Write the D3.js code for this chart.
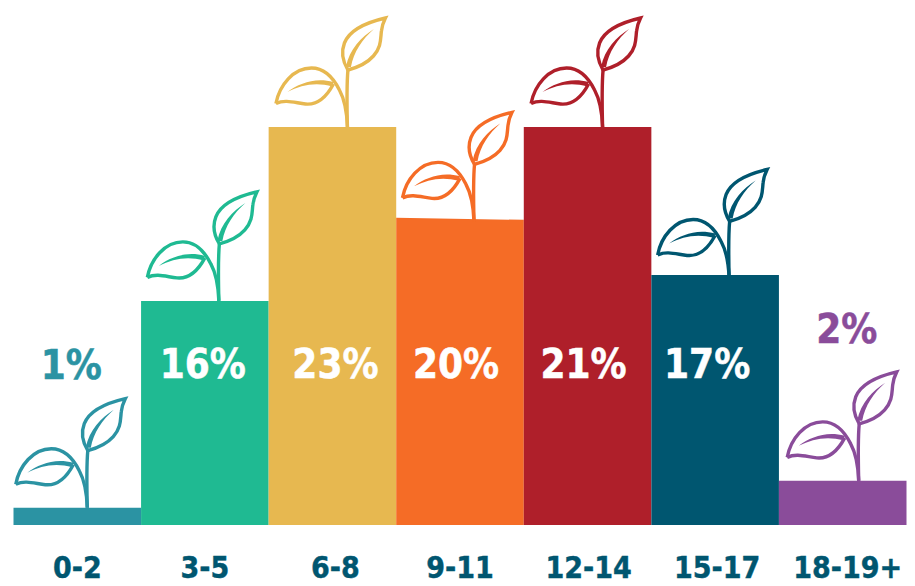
<!DOCTYPE html>
<html>
<head>
<meta charset="utf-8">
<script src="https://cdn.jsdelivr.net/npm/d3@7"></script>
<style>
	html, body { margin: 0; padding: 0; background: #fff; }
	text { font-family: "DejaVu Sans Condensed", "DejaVu Sans", sans-serif; font-stretch: condensed; font-weight: 700; }
</style>
</head>
<body>
<svg id="chart" width="915" height="586"></svg>
<script>
var ages = ["0-2", "3-5", "6-8", "9-11", "12-14", "15-17", "18-19+"];
var shares = [1, 16, 23, 20, 21, 17, 2];
// the drawn heights don't follow the printed shares, so they are read off separately
var barHeights = [1.0, 12.95, 23, 17.75, 23, 14.45, 2.55];
var colors = ["#2b93a3", "#1fba92", "#e7b850", "#f56c26", "#af1f2a", "#005670", "#8a4c9a"];

// hand placement in the original artwork, px
var barTilt = [0, 0, 0, 2, 0, 0, 0];
var sproutShift = [10, 14, 15, 14, 15, 14, 16];
var sproutDrop = [0, 0, 0, 3.5, 0, 3.5, 0];
var labelShift = [-6, -2, 3, -4, -4, -8, 4];
var tickShift = [0, 0, 3, 0, 1, 2, 5];

var baseY = 525;

var svg = d3.select("#chart");

var x = d3.scaleBand()
	.domain(ages)
	.range([13.5, 906.5])
	.padding(0);

var y = d3.scaleLinear()
	.domain([0, 23])
	.range([baseY, 127]);

// sprout outline, origin at the foot of the stem
var sproutLines = [
	"M38,-109C25,-106 3,-99 -3,-84C-6.5,-75 -5,-66 0.5,-57C8,-59 18,-62 26,-71C34,-80 33,-88 34,-96C34.5,-102 36,-105 38,-109Z",
	"M0.5,-57C-1,-40 -0.5,-20 0,0",
	"M-71.5,-23.5C-68,-42 -54,-59 -36,-59C-22,-59 -13,-47 -8,-37C-2,-26 -0.5,-14 0,0",
	"M-71.5,-23.5C-62,-28 -52,-24 -42,-23C-32,-22 -22,-28 -14,-43"
];
var sproutVeins = [
	"M26.5,-98C14,-90 2,-78 -1.5,-60L3.5,-60C6,-75 15,-88 26.5,-98Z",
	"M-60,-35C-48,-44 -32,-50 -14,-45L-15,-40.5C-32,-45 -46,-42 -60,-35Z"
];

var data = ages.map(function (age, i) {
	return { age: age, share: shares[i], h: barHeights[i], color: colors[i], i: i };
});

function center(d) {
	return x(d.age) + x.bandwidth() / 2;
}

svg.selectAll("path.bar")
	.data(data)
	.enter()
	.append("path")
	.attr("class", "bar")
	.attr("d", function (d) {
		var p = d3.path();
		p.moveTo(x(d.age), baseY);
		p.lineTo(x(d.age), y(d.h));
		p.lineTo(x(d.age) + x.bandwidth(), y(d.h) + barTilt[d.i]);
		p.lineTo(x(d.age) + x.bandwidth(), baseY);
		p.closePath();
		return p.toString();
	})
	.attr("fill", function (d) { return d.color; });

var sprouts = svg.selectAll("g.sprout")
	.data(data)
	.enter()
	.append("g")
	.attr("class", "sprout")
	.attr("transform", function (d) {
		return "translate(" + (center(d) + sproutShift[d.i]) + "," + (y(d.h) + sproutDrop[d.i]) + ")";
	});

sproutLines.forEach(function (line) {
	sprouts.append("path")
		.attr("d", line)
		.attr("fill", "none")
		.attr("stroke", function (d) { return d.color; })
		.attr("stroke-width", 3.4);
});
sproutVeins.forEach(function (vein) {
	sprouts.append("path")
		.attr("d", vein)
		.attr("fill", function (d) { return d.color; });
});

// small bars carry the label above the sprout in the bar colour
svg.selectAll("text.share")
	.data(data)
	.enter()
	.append("text")
	.attr("class", "share")
	.attr("x", function (d) { return center(d) + labelShift[d.i]; })
	.attr("y", function (d) { return d.share < 5 ? (d.i === 0 ? 379 : 343) : 378; })
	.attr("text-anchor", "middle")
	.attr("font-size", 40)
	.attr("fill", function (d) { return d.share < 5 ? d.color : "#fff"; })
	.attr("stroke", function (d) { return d.share < 5 ? d.color : "#fff"; })
	.attr("stroke-width", 0.5)
	.text(function (d) { return d.share + "%"; });

var axis = d3.axisBottom(x).tickSize(0).tickPadding(0);

svg.append("g")
	.attr("transform", "translate(0,557)")
	.call(axis)
	.call(function (g) { g.select(".domain").remove(); })
	.selectAll("text")
	.attr("dx", function (d, i) { return tickShift[i]; })
	.attr("font-size", 30)
	.attr("fill", "#005670")
	.attr("stroke", "#005670")
	.attr("stroke-width", 0.4);
</script>
</body>
</html>
